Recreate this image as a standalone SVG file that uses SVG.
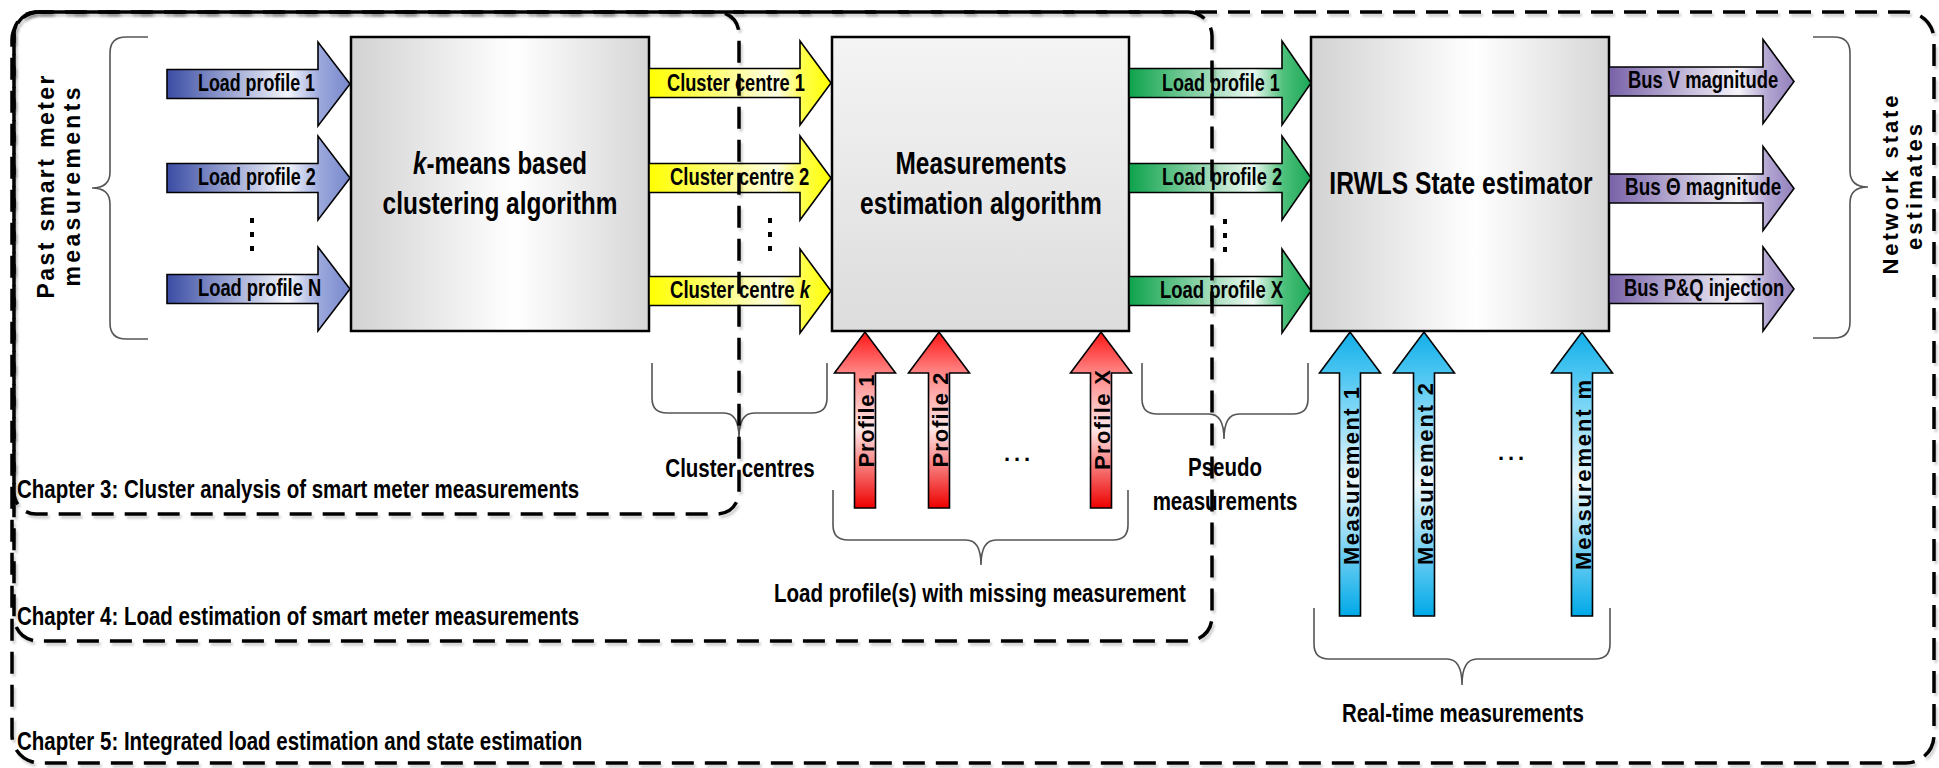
<svg xmlns="http://www.w3.org/2000/svg" width="1939" height="768" viewBox="0 0 1939 768">
  <defs>
    <style>
      .nar { font-family: "Liberation Sans", Arial, sans-serif; font-weight: bold; fill: #000; }
      .wid { font-family: "Liberation Sans", Arial, sans-serif; font-weight: bold; fill: #000; }
      .box { stroke: #000; stroke-width: 2.5; }
      .arrow { stroke: #000; stroke-width: 1.6; stroke-linejoin: miter; }
      .brace { fill: none; stroke: #555; stroke-width: 1.6; }
      .region { fill: none; stroke: #000; stroke-width: 3.5; stroke-dasharray: 22 11; filter: url(#shadow); }
      .dot { fill: #000; }
    </style>
    <filter id="shadow" x="-2%" y="-2%" width="104%" height="104%">
      <feDropShadow dx="2" dy="3" stdDeviation="1.2" flood-color="#000" flood-opacity="0.18"/>
    </filter>
    <linearGradient id="gBoxH" x1="0" y1="0" x2="1" y2="0">
      <stop offset="0" stop-color="#d2d2d2"/>
      <stop offset="0.55" stop-color="#ffffff"/>
      <stop offset="1" stop-color="#d6d6d6"/>
    </linearGradient>
    <linearGradient id="gBoxV" x1="0" y1="0" x2="0" y2="1">
      <stop offset="0" stop-color="#f4f4f4"/>
      <stop offset="1" stop-color="#dcdcdc"/>
    </linearGradient>
    <linearGradient id="gBlue" x1="0" y1="0" x2="1" y2="0">
      <stop offset="0" stop-color="#3a4ca4"/>
      <stop offset="0.66" stop-color="#f4f6fc"/>
      <stop offset="0.84" stop-color="#9aa7dc"/>
      <stop offset="1" stop-color="#7888cb"/>
    </linearGradient>
    <linearGradient id="gYellow" x1="0" y1="0" x2="1" y2="0">
      <stop offset="0" stop-color="#ffff00"/>
      <stop offset="0.7" stop-color="#ffffe6"/>
      <stop offset="0.85" stop-color="#ffff4a"/>
      <stop offset="1" stop-color="#ffff00"/>
    </linearGradient>
    <linearGradient id="gGreen" x1="0" y1="0" x2="1" y2="0">
      <stop offset="0" stop-color="#0da24b"/>
      <stop offset="0.68" stop-color="#eef9f2"/>
      <stop offset="0.85" stop-color="#4cc07a"/>
      <stop offset="1" stop-color="#1ca757"/>
    </linearGradient>
    <linearGradient id="gPurple" x1="0" y1="0" x2="1" y2="0">
      <stop offset="0" stop-color="#7862a8"/>
      <stop offset="0.7" stop-color="#f5f3f9"/>
      <stop offset="0.86" stop-color="#b2a5d1"/>
      <stop offset="1" stop-color="#9280bc"/>
    </linearGradient>
    <linearGradient id="gRed" x1="0" y1="1" x2="0" y2="0">
      <stop offset="0" stop-color="#ee0000"/>
      <stop offset="0.45" stop-color="#ffe8e8"/>
      <stop offset="0.77" stop-color="#ff8585"/>
      <stop offset="1" stop-color="#ff1515"/>
    </linearGradient>
    <linearGradient id="gCyan" x1="0" y1="1" x2="0" y2="0">
      <stop offset="0" stop-color="#00a9e8"/>
      <stop offset="0.47" stop-color="#f0faff"/>
      <stop offset="0.85" stop-color="#4cc6f2"/>
      <stop offset="1" stop-color="#12aee8"/>
    </linearGradient>
  </defs>

  <rect width="1939" height="768" fill="#fff"/>

  <!-- side captions -->
  <g id="past-measurements">
    <path class="brace" d="M148,37 H126 Q110,37 110,53 V172 Q110,188 92,188 Q110,188 110,204 V323 Q110,339 126,339 H148"/>
    <text class="wid" font-size="23" text-anchor="middle" textLength="223" transform="translate(54,187) rotate(-90)">Past smart meter</text>
    <text class="wid" font-size="23" text-anchor="middle" textLength="199" transform="translate(80,187) rotate(-90)">measurements</text>
  </g>

  <g id="network-estimates">
    <path class="brace" d="M1813,37 H1834 Q1850,37 1850,53 V171 Q1850,187 1868,187 Q1850,187 1850,203 V322 Q1850,338 1834,338 H1813"/>
    <text class="wid" font-size="22" text-anchor="middle" textLength="179" transform="translate(1898,185) rotate(-90)">Network state</text>
    <text class="wid" font-size="22" text-anchor="middle" textLength="126" transform="translate(1922,187) rotate(-90)">estimates</text>
  </g>

  <!-- processing blocks (condensed labels: scale 0.77 horizontally) -->
  <g id="kmeans">
    <rect class="box" x="351" y="37" width="298" height="294" fill="url(#gBoxH)"/>
    <text class="nar" font-size="32" text-anchor="middle" textLength="226" lengthAdjust="spacingAndGlyphs" transform="translate(500,174) scale(0.77,1)"><tspan font-style="italic">k</tspan>-means based</text>
    <text class="nar" font-size="32" text-anchor="middle" textLength="305" lengthAdjust="spacingAndGlyphs" transform="translate(500,214) scale(0.77,1)">clustering algorithm</text>
  </g>

  <g id="measurement-estimation">
    <rect class="box" x="832" y="37" width="297" height="294" fill="url(#gBoxV)"/>
    <text class="nar" font-size="32" text-anchor="middle" textLength="222" lengthAdjust="spacingAndGlyphs" transform="translate(981,174) scale(0.77,1)">Measurements</text>
    <text class="nar" font-size="32" text-anchor="middle" textLength="314" lengthAdjust="spacingAndGlyphs" transform="translate(981,214) scale(0.77,1)">estimation algorithm</text>
  </g>

  <g id="state-estimator">
    <rect class="box" x="1311" y="37" width="298" height="294" fill="url(#gBoxH)"/>
    <text class="nar" font-size="32" text-anchor="middle" textLength="342" lengthAdjust="spacingAndGlyphs" transform="translate(1461,194) scale(0.77,1)">IRWLS State estimator</text>
  </g>

  <!-- block arrows -->
  <g id="connectors">
    <g id="load-profiles-in" class="arrow" fill="url(#gBlue)">
      <path d="M167,69.5 H318 V42 L350,84 L318,126 V98.5 H167 Z"/>
      <path d="M167,163.5 H318 V136 L350,178 L318,220 V192.5 H167 Z"/>
      <path d="M167,274.5 H318 V247 L350,289 L318,331 V303.5 H167 Z"/>
    </g>
    <g id="cluster-centres" class="arrow" fill="url(#gYellow)">
      <path d="M649,68.5 H800 V41 L831,83 L800,125 V97.5 H649 Z"/>
      <path d="M649,163.5 H800 V136 L831,178 L800,220 V192.5 H649 Z"/>
      <path d="M649,276.5 H800 V249 L831,291 L800,333 V305.5 H649 Z"/>
    </g>
    <g id="pseudo-profiles" class="arrow" fill="url(#gGreen)">
      <path d="M1129,68.5 H1282 V41 L1311,83 L1282,125 V97.5 H1129 Z"/>
      <path d="M1129,163.5 H1282 V136 L1311,178 L1282,220 V192.5 H1129 Z"/>
      <path d="M1129,276.5 H1282 V249 L1311,291 L1282,333 V305.5 H1129 Z"/>
    </g>
    <g id="state-outputs" class="arrow" fill="url(#gPurple)">
      <path d="M1609,67 H1763 V39.5 L1794,81.5 L1763,123.5 V96 H1609 Z"/>
      <path d="M1609,174 H1763 V146.5 L1794,188.5 L1763,230.5 V203 H1609 Z"/>
      <path d="M1609,274.5 H1763 V247 L1794,289 L1763,331 V303.5 H1609 Z"/>
    </g>
    <g id="missing-profiles" class="arrow" fill="url(#gRed)">
      <path d="M854.5,508 V373 H834.5 L865,332 L895.5,373 H875.5 V508 Z"/>
      <path d="M928.5,508 V373 H908.5 L939,332 L969.5,373 H949.5 V508 Z"/>
      <path d="M1090.5,508 V373 H1070.5 L1101,332 L1131.5,373 H1111.5 V508 Z"/>
    </g>
    <g id="realtime-measurements" class="arrow" fill="url(#gCyan)">
      <path d="M1339.5,616 V373 H1319.5 L1350,332 L1380.5,373 H1360.5 V616 Z"/>
      <path d="M1413.5,616 V373 H1393.5 L1424,332 L1454.5,373 H1434.5 V616 Z"/>
      <path d="M1571.5,616 V373 H1551.5 L1582,332 L1612.5,373 H1592.5 V616 Z"/>
    </g>

    <!-- arrow labels -->
    <g class="nar" font-size="23">
      <text textLength="152" lengthAdjust="spacingAndGlyphs" transform="translate(198,91) scale(0.77,1)">Load profile 1</text>
      <text textLength="153" lengthAdjust="spacingAndGlyphs" transform="translate(198,185) scale(0.77,1)">Load profile 2</text>
      <text textLength="160" lengthAdjust="spacingAndGlyphs" transform="translate(198,296) scale(0.77,1)">Load profile N</text>
      <text textLength="179" lengthAdjust="spacingAndGlyphs" transform="translate(667,91) scale(0.77,1)">Cluster centre 1</text>
      <text textLength="181" lengthAdjust="spacingAndGlyphs" transform="translate(670,185) scale(0.77,1)">Cluster centre 2</text>
      <text textLength="182" lengthAdjust="spacingAndGlyphs" transform="translate(670,298) scale(0.77,1)">Cluster centre <tspan font-style="italic">k</tspan></text>
      <text textLength="153" lengthAdjust="spacingAndGlyphs" transform="translate(1162,91) scale(0.77,1)">Load profile 1</text>
      <text textLength="156" lengthAdjust="spacingAndGlyphs" transform="translate(1162,185) scale(0.77,1)">Load profile 2</text>
      <text textLength="160" lengthAdjust="spacingAndGlyphs" transform="translate(1160,298) scale(0.77,1)">Load profile X</text>
      <text textLength="195" lengthAdjust="spacingAndGlyphs" transform="translate(1628,88) scale(0.77,1)">Bus V magnitude</text>
      <text textLength="203" lengthAdjust="spacingAndGlyphs" transform="translate(1625,195) scale(0.77,1)">Bus Θ  magnitude</text>
      <text textLength="208" lengthAdjust="spacingAndGlyphs" transform="translate(1624,296) scale(0.77,1)">Bus P&amp;Q injection</text>
    </g>
    <g class="wid" font-size="22" text-anchor="middle">
      <text textLength="93" transform="translate(874,421) rotate(-90)">Profile 1</text>
      <text textLength="95" transform="translate(948,420) rotate(-90)">Profile 2</text>
      <text textLength="100" transform="translate(1110,420) rotate(-90)">Profile X</text>
      <text textLength="178" transform="translate(1359,476) rotate(-90)">Measurement 1</text>
      <text textLength="182" transform="translate(1433,474) rotate(-90)">Measurement 2</text>
      <text textLength="190" transform="translate(1591,475) rotate(-90)">Measurement m</text>
    </g>

    <!-- elided items -->
    <g class="dot">
      <rect x="250" y="218" width="4" height="5"/>
      <rect x="250" y="232" width="4" height="5"/>
      <rect x="250" y="246" width="4" height="5"/>
      <rect x="768" y="218" width="4" height="5"/>
      <rect x="768" y="232" width="4" height="5"/>
      <rect x="768" y="246" width="4" height="5"/>
      <rect x="1223" y="219" width="4" height="5"/>
      <rect x="1223" y="233" width="4" height="5"/>
      <rect x="1223" y="247" width="4" height="5"/>
    </g>
    <text class="wid" font-size="22" x="1004" y="461" textLength="26">...</text>
    <text class="wid" font-size="22" x="1498" y="460" textLength="26">...</text>
  </g>

  <!-- group braces and captions -->
  <g id="cluster-centres-caption">
    <path class="brace" d="M652,363 V398 Q652,413 667,413 H724 Q739,413 739,438 Q739,413 754,413 H812 Q827,413 827,398 V363"/>
    <text class="nar" font-size="26" text-anchor="middle" textLength="194" lengthAdjust="spacingAndGlyphs" transform="translate(740,477) scale(0.77,1)">Cluster centres</text>
  </g>
  <g id="missing-caption">
    <path class="brace" d="M833,490 V525 Q833,540 848,540 H966 Q981,540 981,565 Q981,540 996,540 H1113 Q1128,540 1128,525 V490"/>
    <text class="nar" font-size="26" textLength="535" lengthAdjust="spacingAndGlyphs" transform="translate(774,602) scale(0.77,1)">Load profile(s) with missing measurement</text>
  </g>
  <g id="pseudo-caption">
    <path class="brace" d="M1142,363 V399 Q1142,414 1157,414 H1209 Q1224,414 1224,439 Q1224,414 1239,414 H1293 Q1308,414 1308,399 V363"/>
    <text class="nar" font-size="26" text-anchor="middle" textLength="96" lengthAdjust="spacingAndGlyphs" transform="translate(1225,476) scale(0.77,1)">Pseudo</text>
    <text class="nar" font-size="26" text-anchor="middle" textLength="188" lengthAdjust="spacingAndGlyphs" transform="translate(1225,510) scale(0.77,1)">measurements</text>
  </g>
  <g id="realtime-caption">
    <path class="brace" d="M1314,608 V644 Q1314,659 1329,659 H1447 Q1462,659 1462,685 Q1462,659 1477,659 H1595 Q1610,659 1610,644 V608"/>
    <text class="nar" font-size="26" textLength="314" lengthAdjust="spacingAndGlyphs" transform="translate(1342,722) scale(0.77,1)">Real-time measurements</text>
  </g>

  <!-- chapter regions -->
  <g id="chapter-5">
    <rect class="region" x="12" y="12" width="1922" height="751" rx="28"/>
    <text class="nar" font-size="26" textLength="734" lengthAdjust="spacingAndGlyphs" transform="translate(17,750) scale(0.77,1)">Chapter 5: Integrated load estimation and state estimation</text>
  </g>
  <g id="chapter-4">
    <rect class="region" x="14" y="12" width="1198" height="629" rx="24" stroke-dashoffset="9"/>
    <text class="nar" font-size="26" textLength="730" lengthAdjust="spacingAndGlyphs" transform="translate(17,625) scale(0.77,1)">Chapter 4: Load estimation of smart meter measurements</text>
  </g>
  <g id="chapter-3">
    <rect class="region" x="14" y="12" width="725" height="502" rx="22" stroke-dashoffset="4"/>
    <text class="nar" font-size="26" textLength="730" lengthAdjust="spacingAndGlyphs" transform="translate(17,498) scale(0.77,1)">Chapter 3: Cluster analysis of smart meter measurements</text>
  </g>
</svg>
